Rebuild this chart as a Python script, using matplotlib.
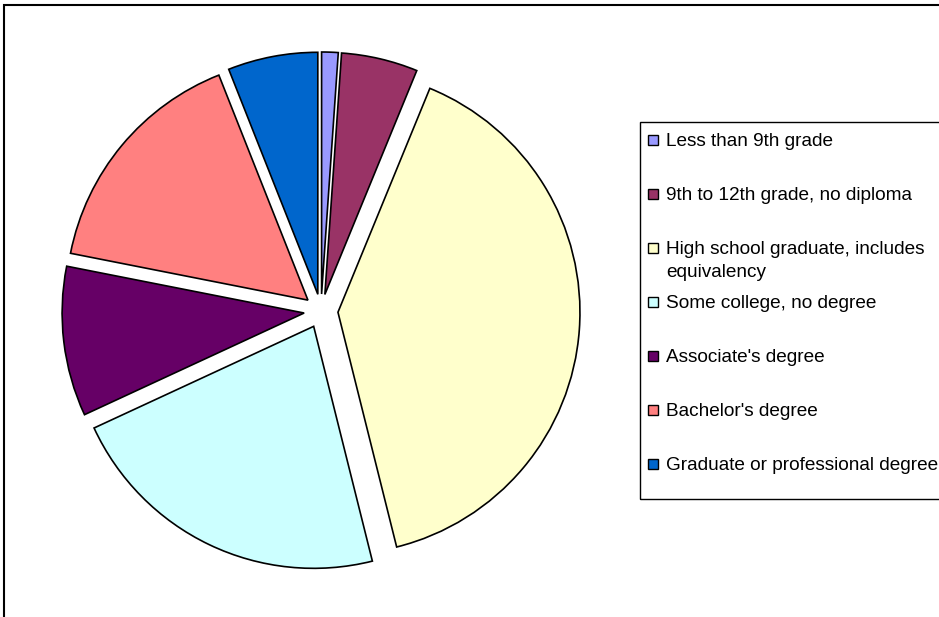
import matplotlib
matplotlib.use("Agg")
import matplotlib.pyplot as plt
from matplotlib.patches import Rectangle

# Educational attainment shares (percent)
categories = [
    "Less than 9th grade",
    "9th to 12th grade, no diploma",
    "High school graduate, includes\nequivalency",
    "Some college, no degree",
    "Associate's degree",
    "Bachelor's degree",
    "Graduate or professional degree",
]
shares = [1.1, 5.1, 39.9, 22.0, 10.0, 15.9, 6.0]
colors = ["#9999FF", "#993366", "#FFFFCC", "#CCFFFF", "#660066", "#FF8080", "#0066CC"]

W, H = 939, 617
fig = plt.figure(figsize=(W / 100, H / 100), dpi=100)
ax = fig.add_axes([0, 0, 1, 1])

# pie explode offsets are in data units (pixels here)
ax.pie(
    shares,
    colors=colors,
    startangle=90,
    counterclock=False,
    explode=[17] * len(shares),
    radius=242,
    center=(321, H - 311),
    wedgeprops=dict(edgecolor="black", linewidth=1.2),
)
ax.set_xlim(0, W)
ax.set_ylim(0, H)
ax.set_aspect("auto")
ax.axis("off")

# Chart area border (extends beyond the right and bottom edges)
ax.add_patch(Rectangle((4, -20), W + 40, H - 5 + 20, fill=False,
                       edgecolor="black", linewidth=1.5, clip_on=False))

# Legend box
ax.add_patch(Rectangle((640, H - 499), W + 40 - 640, 499 - 122, fill=False,
                       edgecolor="black", linewidth=1.0, clip_on=False))

font = dict(family=["Liberation Sans", "DejaVu Sans"], fontsize=13.7, color="black")
row_y = 140
for label, color in zip(categories, colors):
    ax.add_patch(Rectangle((648, H - row_y - 5), 10, 10, facecolor=color,
                           edgecolor="black", linewidth=1.0))
    for j, line in enumerate(label.split("\n")):
        ax.text(666, H - (row_y + 1.5 + 23 * j), line, va="center", ha="left", **font)
    row_y += 54

fig.savefig("out.png", dpi=100)
